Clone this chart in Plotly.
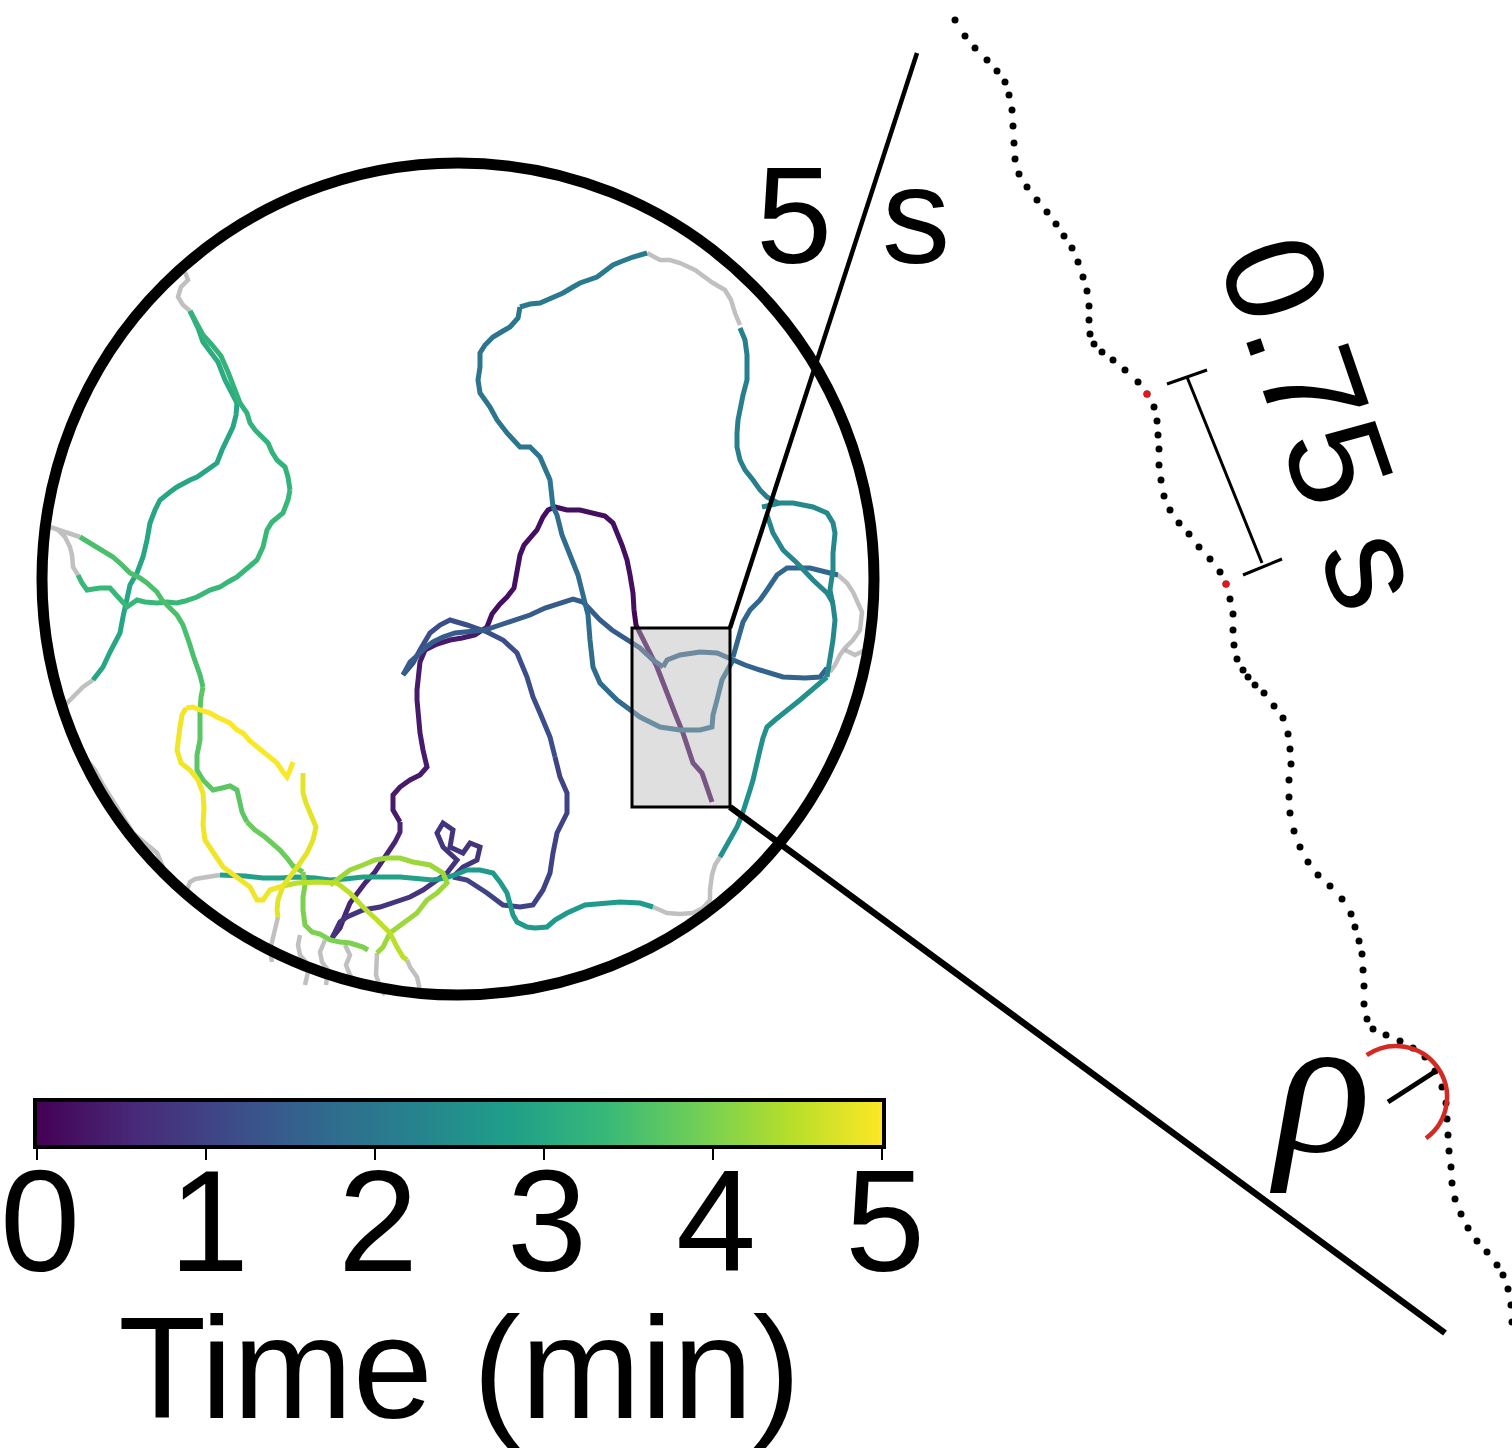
import math
import plotly.graph_objects as go
import plotly.colors as pc

# ---------------- data (pixel-space coordinates) ----------------
# Each track piece: (time in minutes, list of (x, y) vertices)
TRK_01 = (0.05, [(712,802),(706,785),(702,773),(693,763),(688,748),(683,733),(676,716),(670,700),(663,683),(657,667),(650,653),(643,640),(636,625),(634,610)])
TRK_02 = (0.20, [(634,610),(633,593),(630,575),(627,560),(622,545),(617,532),(613,523),(605,516),(593,513),(580,510),(567,510),(555,507),(548,510),(543,517),(537,530),(530,538),(524,545),(520,555),(518,565),(517,575),(514,588),(507,597),(500,604),(492,614),(487,627)])
TRK_03 = (0.35, [(487,627),(475,635),(462,638),(450,640),(437,644),(425,650),(420,662),(418,677),(417,690),(417,700),(418,715),(420,733),(423,750),(427,767),(420,775),(410,780),(400,787),(393,795),(393,810),(400,822)])
TRK_04 = (0.50, [(400,822),(400,832),(395,842),(385,857),(375,872),(365,883),(357,893),(350,903),(345,915),(340,928),(332,938)])
TRK_05 = (0.75, [(332,938),(340,922),(347,917),(363,910),(380,907),(397,902),(410,897),(423,890),(437,880),(447,873),(457,860),(443,847),(437,833),(443,823),(453,830),(450,847),(463,853),(470,843),(480,847),(477,860),(463,867),(453,877)])
TRK_06 = (1.00, [(453,877),(467,880),(487,893),(503,905),(520,907),(533,905),(543,890),(550,873),(553,853),(557,833),(567,813),(567,793),(560,777),(555,757)])
TRK_07 = (1.20, [(555,757),(550,737),(540,713),(533,697),(527,677),(517,653),(503,640),(487,632),(467,625),(450,620),(440,625),(430,633),(420,650),(413,663),(403,675)])
TRK_08 = (1.45, [(403,675),(410,662),(418,655),(425,648),(433,642),(443,637),(455,633),(470,632),(485,630),(500,625),(517,620),(530,615),(545,608),(560,603),(573,599),(583,602),(590,610),(600,620),(612,630),(627,640),(640,648),(653,660),(663,667)])
TRK_09 = (1.60, [(663,667),(667,660),(680,655),(700,652),(717,653),(733,660),(745,665),(760,670),(783,677),(805,678),(820,677),(827,668)])
TRK_10 = (1.75, [(733,660),(722,680),(717,700),(713,715),(712,727),(700,730),(680,730),(660,727),(640,717),(617,700),(600,683),(593,667),(590,640),(588,615),(583,595),(578,575),(570,555),(562,535),(557,515),(553,507)])
TRK_11 = (1.65, [(733,657),(738,640),(743,622),(750,610),(760,600),(767,590),(777,575),(787,568),(810,568),(830,573),(838,575)])
TRK_12 = (1.95, [(553,507),(550,480),(540,457),(530,447),(520,447),(507,433),(497,420),(490,407),(480,393),(478,380),(480,367),(480,353),(485,345),(493,337),(503,331),(510,327),(518,318),(520,307)])
TRK_13 = (2.05, [(520,307),(530,304),(540,303),(552,298),(563,293),(573,287),(580,283),(597,277),(613,265),(620,262),(633,257),(647,253)])
TRK_14 = (2.15, [(740,328),(745,340),(747,355),(747,380),(743,395),(740,407),(738,420),(737,433),(737,447),(740,460),(745,470),(753,480),(760,490),(767,497),(778,503)])
TRK_15 = (2.35, [(762,507),(780,503),(793,503),(813,507),(827,513),(833,523),(835,533),(833,553),(833,570),(830,590),(833,605),(835,620),(833,640),(830,660),(827,677)])
TRK_16 = (2.30, [(767,515),(773,533),(783,550),(797,563),(813,580),(827,593),(833,603)])
TRK_17 = (2.50, [(827,677),(820,683),(810,693),(800,700),(790,708),(783,713),(775,720),(767,727),(763,738),(760,750),(757,765),(753,780),(750,790),(747,800),(742,815),(737,827),(730,840),(725,850),(720,857)])
TRK_18 = (2.70, [(653,907),(640,903),(620,902),(600,903),(585,905),(567,913),(555,920),(547,927),(535,928),(527,927),(517,922),(513,915),(510,905),(507,893),(500,882),(493,873),(480,870),(467,870),(455,875),(445,878),(433,880)])
TRK_19 = (2.85, [(433,880),(420,879),(400,877),(380,877),(363,877),(345,879),(330,880),(315,878),(297,877),(280,878),(263,878),(245,876),(230,875),(220,875)])
TRK_20 = (2.95, [(93,680),(103,667),(110,652),(120,633),(123,617),(127,600),(130,585),(137,573),(143,557),(147,540),(150,523),(155,510),(160,500),(170,492),(177,487),(190,480),(197,477),(210,468),(217,463),(222,450),(228,438),(233,427),(236,415),(237,403)])
TRK_21 = (3.10, [(237,403),(232,393),(225,380),(218,362),(210,352),(203,342),(198,328),(193,317),(190,311)])
TRK_22 = (3.25, [(190,311),(196,322),(203,335),(212,345),(221,356),(228,372),(233,385),(240,403),(247,413),(250,423),(255,430),(262,438),(268,443),(272,452),(277,460),(285,467),(288,477),(290,490)])
TRK_23 = (3.35, [(290,490),(288,500),(283,513),(272,522),(267,530),(265,540),(263,547),(257,560),(250,566),(237,577),(228,582),(220,587),(210,590),(197,597),(185,601),(177,603),(167,602),(157,603),(145,602),(137,600),(127,607),(117,595),(110,588),(100,588),(87,590),(82,583),(78,575)])
TRK_24 = (3.55, [(80,537),(90,543),(100,550),(113,557),(122,565),(130,573),(140,578),(147,583),(157,592),(162,600),(170,608),(177,615),(183,625),(187,635),(190,645),(193,655),(197,665),(200,675),(203,687)])
TRK_25 = (3.70, [(203,687),(201,697),(200,710),(200,725),(200,740),(197,755),(197,770),(203,780),(213,790),(222,788),(230,786),(237,790),(239,800),(242,812),(247,822)])
TRK_26 = (3.85, [(247,822),(255,830),(265,837),(272,843),(280,850),(287,858),(293,866),(303,872)])
TRK_27 = (4.00, [(303,872),(305,885),(303,897),(303,910),(305,925),(312,932),(320,934),(330,940),(340,942),(350,943),(363,947),(368,950)])
TRK_28 = (4.25, [(330,885),(340,878),(350,870),(363,865),(375,860),(387,858),(400,858),(413,862),(430,865),(443,873),(447,883),(437,893),(427,900),(417,913),(407,920),(397,927),(390,933),(383,947),(377,953)])
TRK_29 = (4.50, [(407,960),(403,957),(397,947),(390,933),(377,920),(363,907),(350,893),(337,883),(317,882),(297,883),(283,886)])
TRK_30 = (4.80, [(303,773),(303,793),(306,803),(310,813),(316,827),(313,840),(307,853),(298,866),(290,877),(283,886),(278,900),(277,910),(278,917)])
TRK_31 = (4.90, [(283,886),(270,890),(263,900),(257,900),(250,887),(237,877),(223,867),(213,852),(205,840),(203,825),(204,808),(203,793),(198,780),(190,770),(181,763),(177,750),(178,737),(180,727),(182,715),(186,708)])
TRK_32 = (4.98, [(186,708),(193,707),(200,710),(210,713),(217,717),(230,723),(237,730),(243,733),(250,741),(257,747),(265,753),(270,757),(277,763),(283,772),(287,777),(290,770),(293,762)])

# Grey pieces: parts of the tracks outside the 5-minute window
GREY_01 = [(647,253),(655,257),(660,260),(670,260),(680,263),(695,270),(713,283),(725,290),(731,300),(735,313),(740,325)]
GREY_02 = [(838,575),(847,583),(853,592),(857,600),(862,612),(860,630),(853,640),(845,648),(840,655),(835,665),(830,672)]
GREY_03 = [(720,857),(715,865),(712,875),(710,890),(710,900),(703,908),(693,913),(680,914),(667,913),(653,907)]
GREY_04 = [(220,875),(207,877),(195,879),(190,882),(187,890)]
GREY_05 = [(185,272),(188,280),(181,287),(178,297),(183,305),(190,311)]
GREY_06 = [(93,680),(83,687),(75,695),(67,703),(58,710)]
GREY_07 = [(78,575),(73,567),(72,555),(70,547),(65,537),(58,530),(50,527),(60,530),(70,533),(80,537)]
GREY_08 = [(377,953),(377,962),(376,975),(380,987),(385,995)]
GREY_09 = [(278,917),(275,928),(272,940),(270,950),(272,962)]
GREY_10 = [(407,960),(410,967),(417,977),(420,990)]
GREY_11 = [(87,760),(95,770),(103,785),(113,800),(120,812),(125,820),(133,833),(145,843),(157,853),(163,867)]
GREY_12 = [(300,935),(298,945),(300,955),(306,962),(308,972),(305,985)]
GREY_13 = [(325,940),(320,952),(322,962),(328,970),(326,985)]
GREY_14 = [(345,945),(350,955),(346,965),(350,975),(356,985)]
GREY_15 = [(845,650),(855,655),(865,650),(872,655)]

# Zoomed 5 s trajectory: individual frames
ZOOM_X = [955,965,975,987,997,1005,1009,1012,1013,1014,1015,1019,1027,1037,1047,1056,1064,1072,1078,1083,
          1087,1089,1089,1090,1094,1102,1113,1125,1138,1147,1154,1157,1158,1159,1159,1161,1164,1170,1179,1189,
          1199,1210,1220,1226,1230,1233,1233,1234,1237,1243,1248,1255,1264,1274,1283,1288,1290,1291,1289,1289,
          1290,1294,1300,1308,1318,1330,1342,1351,1355,1359,1362,1363,1364,1364,1367,1373,1386,1400,1413,1425,
          1435,1442,1446,1447,1448,1449,1451,1452,1455,1461,1468,1477,1487,1497,1503,1508,1511,1512]
ZOOM_Y = [20,36,48,60,71,82,95,110,126,143,159,174,187,200,212,224,236,248,262,277,
          291,306,320,334,344,352,360,370,382,394,407,421,435,449,465,480,496,510,523,534,
          547,559,572,584,599,614,630,645,659,670,677,685,693,706,718,734,749,764,780,797,
          813,831,847,862,875,886,899,914,927,941,954,970,986,1004,1019,1029,1035,1041,1048,1057,
          1071,1087,1103,1119,1135,1151,1167,1183,1199,1214,1228,1241,1252,1265,1275,1289,1305,1322]
MARK_X = [1147, 1226]   # the two frames 0.75 s apart
MARK_Y = [394, 584]

CBAR_TICKS = [0, 1, 2, 3, 4, 5]
CBAR_LABELS = ["0", "1", "2", "3", "4", "5"]
CBAR_TITLE = "Time (min)"

TRACKS = [TRK_01, TRK_02, TRK_03, TRK_04, TRK_05, TRK_06, TRK_07, TRK_08, TRK_09, TRK_10,
          TRK_11, TRK_12, TRK_13, TRK_14, TRK_15, TRK_16, TRK_17, TRK_18, TRK_19, TRK_20,
          TRK_21, TRK_22, TRK_23, TRK_24, TRK_25, TRK_26, TRK_27, TRK_28, TRK_29, TRK_30,
          TRK_31, TRK_32]
GREYS = [GREY_01, GREY_02, GREY_03, GREY_04, GREY_05, GREY_06, GREY_07, GREY_08, GREY_09,
         GREY_10, GREY_11, GREY_12, GREY_13, GREY_14, GREY_15]

# ---------------- layout geometry ----------------
W, H = 1512, 1449
ARENA_C = (458, 579)
ARENA_R = 416
ZOOM_BOX = (632, 628, 730, 807)
LINE_UP_END = (917, 53)
LINE_LO_END = (1445, 1333)
SCALE_BAR = ((1187, 377), (1262, 563))
CAP_A = ((1167, 384), (1207, 370))
CAP_B = ((1243, 575), (1282, 559))
ARC_C = (1396, 1097)
ARC_R = 51
ARC_DEG = (-125, 54)
TICK_MARK = ((1388, 1102), (1436, 1071))
CBAR_BOX = (37, 1102, 882, 1145)   # left, top, right, bottom in px
FONT = "Liberation Sans, Arial, sans-serif"

fig = go.Figure()

for g in GREYS:
    fig.add_trace(go.Scatter(x=[p[0] for p in g], y=[p[1] for p in g], mode="lines",
                             line=dict(color="rgba(150,150,150,0.6)", width=4.5),
                             hoverinfo="skip", showlegend=False))

for t, pts in TRACKS:
    col = pc.sample_colorscale("Viridis", [t / 5.0])[0]
    fig.add_trace(go.Scatter(x=[p[0] for p in pts], y=[p[1] for p in pts], mode="lines",
                             line=dict(color=col, width=5),
                             hoverinfo="skip", showlegend=False))

# zoomed trajectory dots
fig.add_trace(go.Scatter(x=ZOOM_X, y=ZOOM_Y, mode="markers",
                         marker=dict(size=7, color="black"), hoverinfo="skip", showlegend=False))
fig.add_trace(go.Scatter(x=MARK_X, y=MARK_Y, mode="markers",
                         marker=dict(size=7, color="#e8141c"), hoverinfo="skip", showlegend=False))

# colour bar: a smoothed heatmap on its own small axes
fig.add_trace(go.Heatmap(z=[CBAR_TICKS, CBAR_TICKS], x=CBAR_TICKS, y=[0, 1], zsmooth="best",
                         colorscale="Viridis", zmin=0, zmax=5, showscale=False,
                         xaxis="x2", yaxis="y2", hoverinfo="skip"))

shapes = []
cx, cy = ARENA_C
shapes.append(dict(type="circle", xref="x", yref="y", x0=cx - ARENA_R, y0=cy - ARENA_R,
                   x1=cx + ARENA_R, y1=cy + ARENA_R, line=dict(color="black", width=11), layer="above"))
bx0, by0, bx1, by1 = ZOOM_BOX
shapes.append(dict(type="rect", xref="x", yref="y", x0=bx0, y0=by0, x1=bx1, y1=by1,
                   fillcolor="rgba(185,185,185,0.45)", line=dict(color="black", width=3), layer="above"))
shapes.append(dict(type="line", xref="x", yref="y", x0=bx1, y0=by0, x1=LINE_UP_END[0], y1=LINE_UP_END[1],
                   line=dict(color="black", width=4.5), layer="above"))
shapes.append(dict(type="line", xref="x", yref="y", x0=bx1, y0=by1, x1=LINE_LO_END[0], y1=LINE_LO_END[1],
                   line=dict(color="black", width=6.5), layer="above"))
for (a, b) in (SCALE_BAR, CAP_A, CAP_B):
    shapes.append(dict(type="line", xref="x", yref="y", x0=a[0], y0=a[1], x1=b[0], y1=b[1],
                       line=dict(color="black", width=3), layer="above"))
shapes.append(dict(type="line", xref="x", yref="y", x0=TICK_MARK[0][0], y0=TICK_MARK[0][1],
                   x1=TICK_MARK[1][0], y1=TICK_MARK[1][1], line=dict(color="black", width=5), layer="above"))

# red turning-angle arc (two cubic Bezier halves)
ax, ay = ARC_C
a0, a1 = math.radians(ARC_DEG[0]), math.radians(ARC_DEG[1])
am = (a0 + a1) / 2
k = 4.0 / 3.0 * math.tan((am - a0) / 4.0) * ARC_R
def pt(a):
    return ax + ARC_R * math.cos(a), ay + ARC_R * math.sin(a)
def tan_(a):
    return -math.sin(a), math.cos(a)
p0 = pt(a0)
path = f"M {p0[0]:.1f},{p0[1]:.1f}"
for s, e in ((a0, am), (am, a1)):
    ps, pe = pt(s), pt(e)
    ts, te = tan_(s), tan_(e)
    c1 = (ps[0] + k * ts[0], ps[1] + k * ts[1])
    c2 = (pe[0] - k * te[0], pe[1] - k * te[1])
    path += f" C {c1[0]:.1f},{c1[1]:.1f} {c2[0]:.1f},{c2[1]:.1f} {pe[0]:.1f},{pe[1]:.1f}"
shapes.append(dict(type="path", xref="x", yref="y", path=path,
                   line=dict(color="#d42a22", width=4.5), layer="above"))

annotations = [
    dict(x=853, y=215, xref="x", yref="y", text="5 \u200as", showarrow=False,
         font=dict(size=137, family=FONT, color="black")),
    dict(x=1325, y=421, xref="x", yref="y", text="0.75 s", showarrow=False, textangle=71,
         font=dict(size=140, family=FONT, color="black")),
    dict(x=1320, y=1083, xref="x", yref="y", text="<i>ρ</i>", showarrow=False,
         font=dict(size=200, family="Liberation Serif, DejaVu Serif, serif", color="black")),
]

cl, ct, cr, cb = CBAR_BOX
fig.update_layout(
    width=W, height=H, autosize=False,
    margin=dict(l=0, r=0, t=0, b=0, pad=0, autoexpand=False),
    paper_bgcolor="white", plot_bgcolor="rgba(0,0,0,0)",
    xaxis=dict(range=[0, W], visible=False, domain=[0, 1], fixedrange=True),
    yaxis=dict(range=[H, 0], visible=False, domain=[0, 1], fixedrange=True),
    xaxis2=dict(domain=[cl / W, cr / W], anchor="y2", range=[0, 5], side="bottom",
                tickvals=CBAR_TICKS, ticktext=CBAR_LABELS, ticks="outside", ticklen=11,
                tickwidth=1.5, tickcolor="black", showgrid=False, zeroline=False,
                showline=True, linecolor="black", linewidth=4, mirror=True,
                ticklabeloverflow="allow", ticklabelstandoff=-62, ticklabelshift=3,
                tickfont=dict(size=144, family=FONT, color="black"),
                title=dict(text=CBAR_TITLE, font=dict(size=144, family=FONT, color="black")),
                fixedrange=True),
    yaxis2=dict(domain=[1 - cb / H, 1 - ct / H], anchor="x2", range=[0, 1], showticklabels=False,
                ticks="", showgrid=False, zeroline=False, showline=True, linecolor="black",
                linewidth=4, mirror=True, fixedrange=True),
    shapes=shapes, annotations=annotations, showlegend=False,
)

fig.write_html("out.html", config={"displayModeBar": False, "staticPlot": True},
               post_script="document.body.style.margin='0px';document.body.style.overflow='hidden';")
